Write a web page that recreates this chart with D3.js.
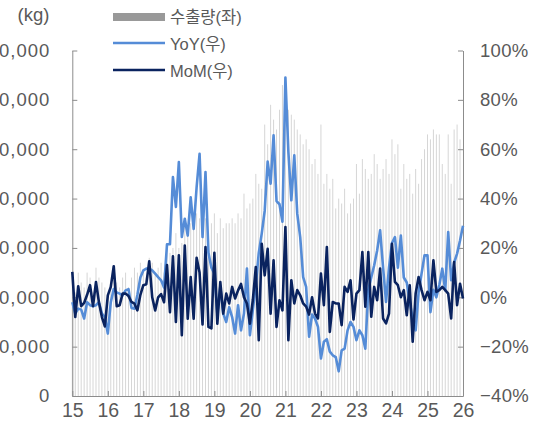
<!DOCTYPE html>
<html>
<head>
<meta charset="utf-8">
<script src="https://cdn.jsdelivr.net/npm/d3@7"></script>
<style>
body { margin: 0; background: #fff; }
text { font-family: "Liberation Sans", Arial, "Noto Sans CJK KR", sans-serif; fill: #595959; }
.axis path, .axis line { stroke: #8c8c8c; }
</style>
</head>
<body>
<svg id="chart" width="544" height="426"></svg>
<script>
// monthly data, Jan 2015 .. Jan 2026
var years = [15, 16, 17, 18, 19, 20, 21, 22, 23, 24, 25, 26];

// export volume, kg (left axis)
var exportKg = [
  24000, 21000, 25000, 23000, 22000, 25000, 24000, 21000, 26000, 24000, 23000, 22000,
  20000, 22000, 25000, 23000, 22000, 24000, 25000, 22000, 24000, 26000, 25000, 27000,
  25000, 24000, 28000, 27000, 25000, 26000, 27000, 25000, 31000, 29000, 30000, 33000,
  30000, 31000, 36000, 33000, 35000, 34000, 37000, 36000, 34000, 36000, 33000, 35000,
  37000, 33000, 36000, 34000, 35000, 35000, 36000, 35000, 37000, 36000, 41000, 38000,
  39000, 40000, 45000, 43000, 42000, 55000, 51000, 59000, 56000, 54000, 58000, 63000,
  62000, 58000, 57000, 56000, 54000, 53000, 51000, 52000, 50000, 47000, 48000, 45000,
  55000, 43000, 45000, 42000, 44000, 38000, 40000, 39000, 42000, 37000, 39000, 40000,
  47000, 41000, 48000, 46000, 44000, 45000, 49000, 47000, 44000, 46000, 48000, 45000,
  52000, 49000, 51000, 42000, 47000, 44000, 45000, 41000, 46000, 43000, 48000, 50000,
  53000, 52000, 54000, 53000, 53000, 47000, 45000, 53000, 43000, 54000, 55000, 52000,
  null
];

// YoY, % (right axis)
var yoy = [
  -2, -6.6, -4.6, -5, -8.6, -2, -3.2, -3.6, -3.2, -2, -6.6, -8,
  -14.7, -2, 3.3, 2, 1.5, 0.8, 2.8, 3.3, -4.3, -4.6, 1, 8,
  10.9, 11.6, 11.6, 10.9, 9.6, 8.2, 6.9, 4, 21.5, 21.5, 48.7, 36.6,
  54.8, 24.4, 31.8, 25, 40.5, 27.7, 44.6, 58.1, 24.4, 50.7, 18, 12,
  9.6, -6.6, 4.2, -6.6, -10, -4, -8, -14.7, -3.2, -13.4, -6.6, 11.6,
  -15.4, -5, 5, 18, 25.8, 35, 55, 46, 65.6, 39, 37.7, 30.6,
  89, 59, 39.3, 57.5, 33.9, 24.4, 8.2, 4.2, -16, -7, -8.6, -12,
  -24.8, -18, -17, -22, -23.5, -24.2, -30, -21.5, -20.8, -13.4, -10, -12,
  -17.4, -13.4, -15.4, -20.8, 3, 8, 13, 19, 27.1, 12, -1.9, 12,
  22, 24.4, 12, 25, 8, 6, -2, -8.6, -13.4, 2, 9.6, 17,
  17, -6, 3, 0, 5, 11.6, 2.8, 26.4, 6.9, 14, 17.7, 23,
  29
];

// MoM, % (right axis)
var mom = [
  10.3, -8, 4.5, -3.6, -2.3, 1, 4.9, -3.6, 6.2, -2, -8, -11.8,
  0.8, 4.2, 12.6, -3.6, -3.2, 1.5, 1.5, 0.5, -1.9, -2.6, -5.3, 1,
  4.9, 5.3, 14.6, 0, -5.3, 0, 1.3, -2, 13.1, -6, 16.6, -10,
  17, -15.4, 21, -8.7, 8.2, -8.7, 16, 10, -11, 20.4, -12, -12.6,
  18, -10.7, 6.2, -6.6, 1.5, -2.5, 4.2, -0.5, 2.8, 5.4, 0, -2.5,
  -10.7, -1, 12.3, -17.4, 21.7, 8.9, 19.6, -6.6, 15, -12, -1.2, -5.3,
  28.5, -17.4, 6.9, -2.5, 2.9, 0.8, -2.5, -3.8, -7, 0, -6.6, -8.6,
  9.6, -3.2, 20.4, -14, -1.9, -2.5, -2.5, -11.3, 4.2, 2.2, 6.9, -9,
  1.5, 2.9, 18.3, -3.8, 18.3, -7.9, 4.2, -1.2, 11.6, -8.6, -10.6, -6.6,
  21.7, 6.2, 4.9, 0, 2.9, -7.3, 4.9, -18, 1.5, 8.2, 2.9, -1.2,
  2.2, -1.2, 15, 2.2, 2.9, 4.2, 2.9, 1.5, -8.6, 14.3, -3.2, 5.5,
  -0.5
];

var leftTicks = [0, 10000, 20000, 30000, 40000, 50000, 60000, 70000];
var rightTicks = [-40, -20, 0, 20, 40, 60, 80, 100];

// category labels "15-01" .. "26-01"
var months = [];
years.forEach(function (y) {
  for (var m = 1; m <= 12; m++) {
    if (y == 26 && m > 1) break;
    months.push(y + "-" + (m < 10 ? "0" + m : m));
  }
});

var svg = d3.select("#chart");
var plotLeft = 72.3, plotRight = 463, plotTop = 50.5, plotBottom = 396;

var x = d3.scalePoint().domain(months).range([plotLeft, plotRight]);
var yL = d3.scaleLinear().domain([0, 70000]).range([plotBottom, plotTop]);
var yR = d3.scaleLinear().domain([-40, 100]).range([plotBottom, plotTop]);

// bars (thin, Excel-like)
svg.append("g")
  .selectAll("rect")
  .data(exportKg.map(function (v, i) { return { m: months[i], v: v }; }).filter(function (d) { return d.v != null; }))
  .enter().append("rect")
  .attr("x", function (d) { return x(d.m) - 0.5; })
  .attr("width", 1)
  .attr("y", function (d) { return yL(d.v); })
  .attr("height", function (d) { return yL(0) - yL(d.v); })
  .attr("fill", "#d6d6d6");

// axes
svg.append("g")
  .attr("class", "axis")
  .attr("transform", "translate(" + plotLeft + ",0)")
  .call(d3.axisLeft(yL).tickValues(leftTicks).tickSizeInner(-5).tickSizeOuter(0).tickPadding(22)
    .tickFormat(d3.format(",")))
  .call(function (g) { g.selectAll("text").style("font-size", "18.5px").style("letter-spacing", "1px"); });

svg.append("g")
  .attr("class", "axis")
  .attr("transform", "translate(" + plotRight + ",0)")
  .call(d3.axisRight(yR).tickValues(rightTicks).tickSizeInner(-5).tickSizeOuter(0).tickPadding(17)
    .tickFormat(function (d) { return (d < 0 ? "\u2212" : "") + Math.abs(d) + "%"; }))
  .call(function (g) { g.selectAll("text").style("font-size", "18.5px").style("letter-spacing", "0.3px"); });

svg.append("g")
  .attr("class", "axis")
  .attr("transform", "translate(0," + plotBottom + ")")
  .call(d3.axisBottom(x).tickValues(months.filter(function (m) { return m.slice(3) == "01"; }))
    .tickSizeInner(-5).tickSizeOuter(0).tickPadding(7)
    .tickFormat(function (m) { return m.slice(0, 2); }))
  .call(function (g) { g.selectAll("text").style("font-size", "19.5px"); });

svg.selectAll(".axis text").attr("fill", "#595959");

// lines
var line = d3.line()
  .x(function (d, i) { return x(months[i]); })
  .y(function (d) { return yR(d); });

svg.append("path")
  .datum(yoy)
  .attr("d", line)
  .attr("fill", "none")
  .attr("stroke", "#558cd7")
  .attr("stroke-width", 2.6)
  .attr("stroke-linejoin", "round");

svg.append("path")
  .datum(mom)
  .attr("d", line)
  .attr("fill", "none")
  .attr("stroke", "#0a235f")
  .attr("stroke-width", 2.6)
  .attr("stroke-linejoin", "round");

// unit label
svg.append("text")
  .attr("x", 33.5).attr("y", 21)
  .attr("text-anchor", "middle")
  .style("font-size", "18.5px")
  .text("(kg)");

// legend
var legend = svg.append("g");
legend.append("rect")
  .attr("x", 113).attr("y", 13).attr("width", 52).attr("height", 8)
  .attr("fill", "#999999");
legend.append("line")
  .attr("x1", 113).attr("x2", 165).attr("y1", 43).attr("y2", 43)
  .attr("stroke", "#558cd7").attr("stroke-width", 2.6);
legend.append("line")
  .attr("x1", 113).attr("x2", 165).attr("y1", 70).attr("y2", 70)
  .attr("stroke", "#0a235f").attr("stroke-width", 2.6);

var legendText = ["수출량(좌)", "YoY(우)", "MoM(우)"];
var legendY = [23, 50, 77];
legendText.forEach(function (t, i) {
  legend.append("text")
    .attr("x", 170).attr("y", legendY[i])
    .style("font-size", "16.5px")
    .text(t);
});
</script>
</body>
</html>
